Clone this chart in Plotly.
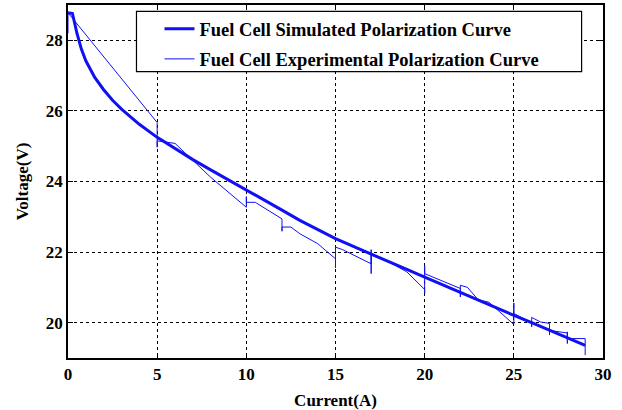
import plotly.graph_objects as go

sim_current = [0, 0.25, 0.5, 0.75, 1, 1.5, 2, 2.5, 3, 4, 5, 6, 7, 8, 9, 10, 11, 12, 13, 14,
               15, 16, 17, 18, 19, 20, 21, 22, 23, 24, 25, 26, 27, 28, 29]
sim_voltage = [28.78, 28.76, 28.2, 27.75, 27.42, 26.95, 26.6, 26.3, 26.05, 25.62, 25.25, 24.93,
               24.62, 24.33, 24.05, 23.77, 23.48, 23.19, 22.9, 22.64, 22.38, 22.16, 21.95, 21.73,
               21.51, 21.29, 21.07, 20.85, 20.64, 20.42, 20.21, 20.0, 19.78, 19.57, 19.36]

exp_current = [0, 0, 5, 5, 5, 6, 8, 10, 10, 10, 10.5, 12, 12, 12, 12.5, 13, 14, 15, 15, 15,
               15.4, 17, 17, 17, 17, 18, 19, 20, 20, 20, 20, 22, 22, 22, 22.4, 23, 23.6, 24.2,
               25, 25, 25, 26, 26, 26, 26.5, 27, 27, 27, 27, 28, 28, 28, 28, 29, 29]
exp_voltage = [28.2, 28.78, 25.67, 24.97, 25.15, 25.08, 24.12, 23.27, 23.57, 23.41, 23.41, 22.94,
               22.59, 22.71, 22.71, 22.52, 22.24, 21.81, 21.55, 22.14, 22.07, 21.67, 22.07, 21.39,
               21.92, 21.72, 21.44, 20.94, 20.84, 21.62, 21.39, 20.97, 20.73, 21.06, 21.0, 20.65,
               20.58, 20.31, 19.95, 20.56, 20.26, 20.0, 19.88, 20.15, 20.02, 19.98, 19.65, 19.96,
               19.78, 19.71, 19.41, 19.74, 19.55, 19.55, 19.08]

x_ticks = [0, 5, 10, 15, 20, 25, 30]
y_ticks = [20, 22, 24, 26, 28]

FONT = "Liberation Serif, Times New Roman, serif"
BLUE = "#1010f5"

fig = go.Figure()
fig.add_trace(go.Scatter(x=sim_current, y=sim_voltage, mode="lines",
                         name="Fuel Cell Simulated Polarization Curve",
                         legendgroup="a",
                         line=dict(color=BLUE, width=3)))
fig.add_trace(go.Scatter(x=exp_current, y=exp_voltage, mode="lines",
                         name="Fuel Cell Experimental Polarization Curve",
                         legendgroup="b",
                         line=dict(color=BLUE, width=1)))

axis_common = dict(
    showline=True, linecolor="black", linewidth=1.5, mirror="ticks",
    ticks="inside", ticklen=5, tickcolor="black", tickwidth=1,
    showgrid=True, gridcolor="black", gridwidth=1, griddash="dot",
    zeroline=False,
    tickfont=dict(family=FONT, size=17, color="black", weight="bold"),
)

fig.update_xaxes(range=[0, 30], tickvals=x_ticks, automargin=False,
                 title=dict(text="Current(A)", standoff=12,
                            font=dict(family=FONT, size=17, color="black", weight="bold")),
                 **axis_common)
fig.update_yaxes(range=[19, 29], tickvals=y_ticks, automargin=False,
                 title=dict(text="Voltage(V)", standoff=13,
                            font=dict(family=FONT, size=17, color="black", weight="bold")),
                 **axis_common)

# legend frame
fig.add_shape(type="rect", xref="paper", yref="paper",
              x0=0.128, x1=0.960, y0=0.811, y1=0.982,
              line=dict(color="black", width=1.2), fillcolor="white", layer="above")

fig.update_layout(
    width=622, height=410,
    margin=dict(l=68, r=19, t=5, b=52),
    paper_bgcolor="white", plot_bgcolor="white",
    showlegend=True,
    legend=dict(x=0.171, y=0.985, xanchor="left", yanchor="top",
                bgcolor="rgba(0,0,0,0)", borderwidth=0,
                tracegroupgap=3,
                font=dict(family=FONT, size=18.5, color="black", weight="bold")),
)

fig.write_html("out.html")
